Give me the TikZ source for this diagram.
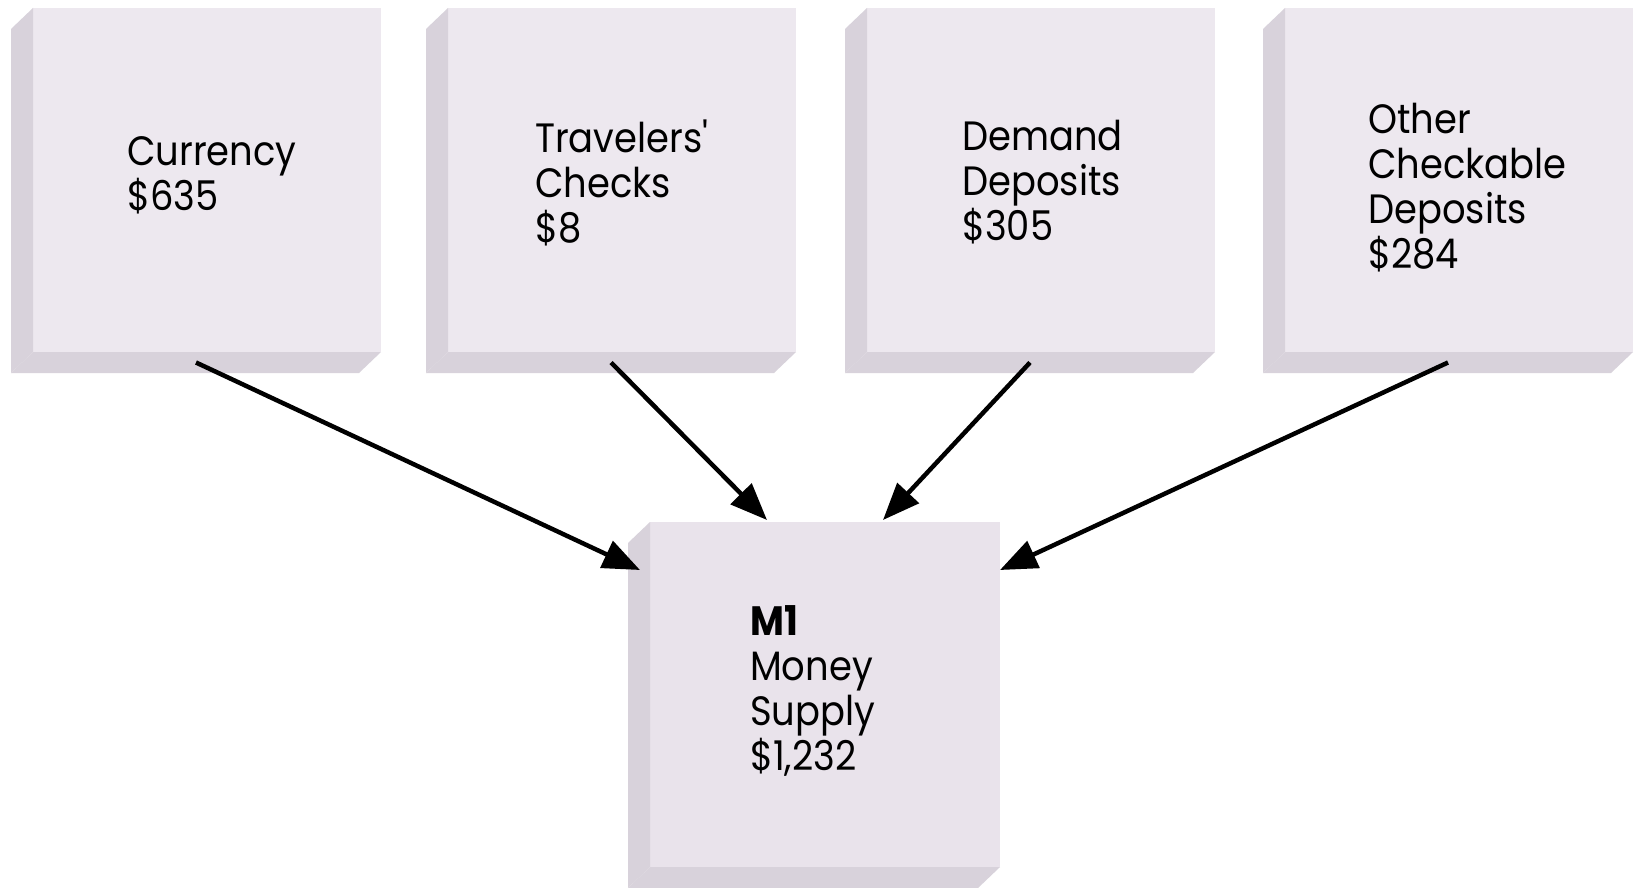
\documentclass[tikz,border=0pt]{standalone}
\usepackage{fontspec}
\setmainfont{Poppins}[FakeStretch=0.9]
\usetikzlibrary{arrows.meta,calc}

\definecolor{faceFront}{RGB}{237,232,239}
\definecolor{faceSide}{RGB}{216,210,219}
\definecolor{sumFront}{RGB}{233,227,235}

\tikzset{
  front/.style={fill=faceFront, draw=none, minimum width=348pt,
    minimum height=344pt, anchor=north west, inner sep=0pt, outer sep=0pt},
  side/.style={fill=faceSide, draw=none},
  label/.style={anchor=base west, align=left, inner sep=0pt,
    font=\fontsize{41}{45}\selectfont},
  feed/.style={line width=4.5pt, -{Triangle[length=37pt,width=29pt]}},
}

% the two visible side faces of a block whose front face is node #1
\newcommand\blockfaces[1]{%
  \fill[side] (#1.north west) -- (#1.south west) -- ++(-22,21)
    -- ($(#1.north west)+(-22,21)$) -- cycle;
  \fill[side] (#1.south west) -- (#1.south east) -- ++(-22,21)
    -- ($(#1.south west)+(-22,21)$) -- cycle;
}

\begin{document}
\begin{tikzpicture}[x=1pt, y=-1pt]
  \useasboundingbox (0,0) rectangle (1637,888);
  \fill[white] (0,0) rectangle (1637,888);

  % components
  \node[front] (cur) at (33,8) {};
  \node[front] (trv) at (448,8) {};
  \node[front] (dem) at (867,8) {};
  \node[front] (oth) at (1285,8) {};
  \node[front, fill=sumFront, minimum width=350pt, minimum height=345pt] (m1) at (650,522) {};
  \foreach \b in {cur,trv,dem,oth,m1} {\blockfaces{\b}}

  % labels, placed by the baseline of their last line
  \node[label] (curT) at (127,210) {Currency\\\$635};
  \node[label] (trvT) at (535,242) {Travelers\textquotesingle\\Checks\\\$8};
  \node[label] (demT) at (962,240) {Demand\\Deposits\\\$305};
  \node[label] (othT) at (1368,268) {Other\\Checkable\\Deposits\\\$284};
  \node[label] (m1T) at (750,770) {\textbf{M1}\\Money\\Supply\\\$1,232};

  % arrows leave from the middle of each bottom face
  \foreach \b in {cur,trv,dem,oth} {
    \coordinate (\b-out) at ($(\b.south)+(-11,10.5)$);
  }
  \draw[feed] (cur-out) -- ($(m1.north west)+(-10,48)$);
  \draw[feed] (trv-out) -- ($(m1.north)+(-58,-2)$);
  \draw[feed] (dem-out) -- ($(m1.north)+(58,-2)$);
  \draw[feed] (oth-out) -- ($(m1.north east)+(0,48)$);
\end{tikzpicture}
\end{document}
